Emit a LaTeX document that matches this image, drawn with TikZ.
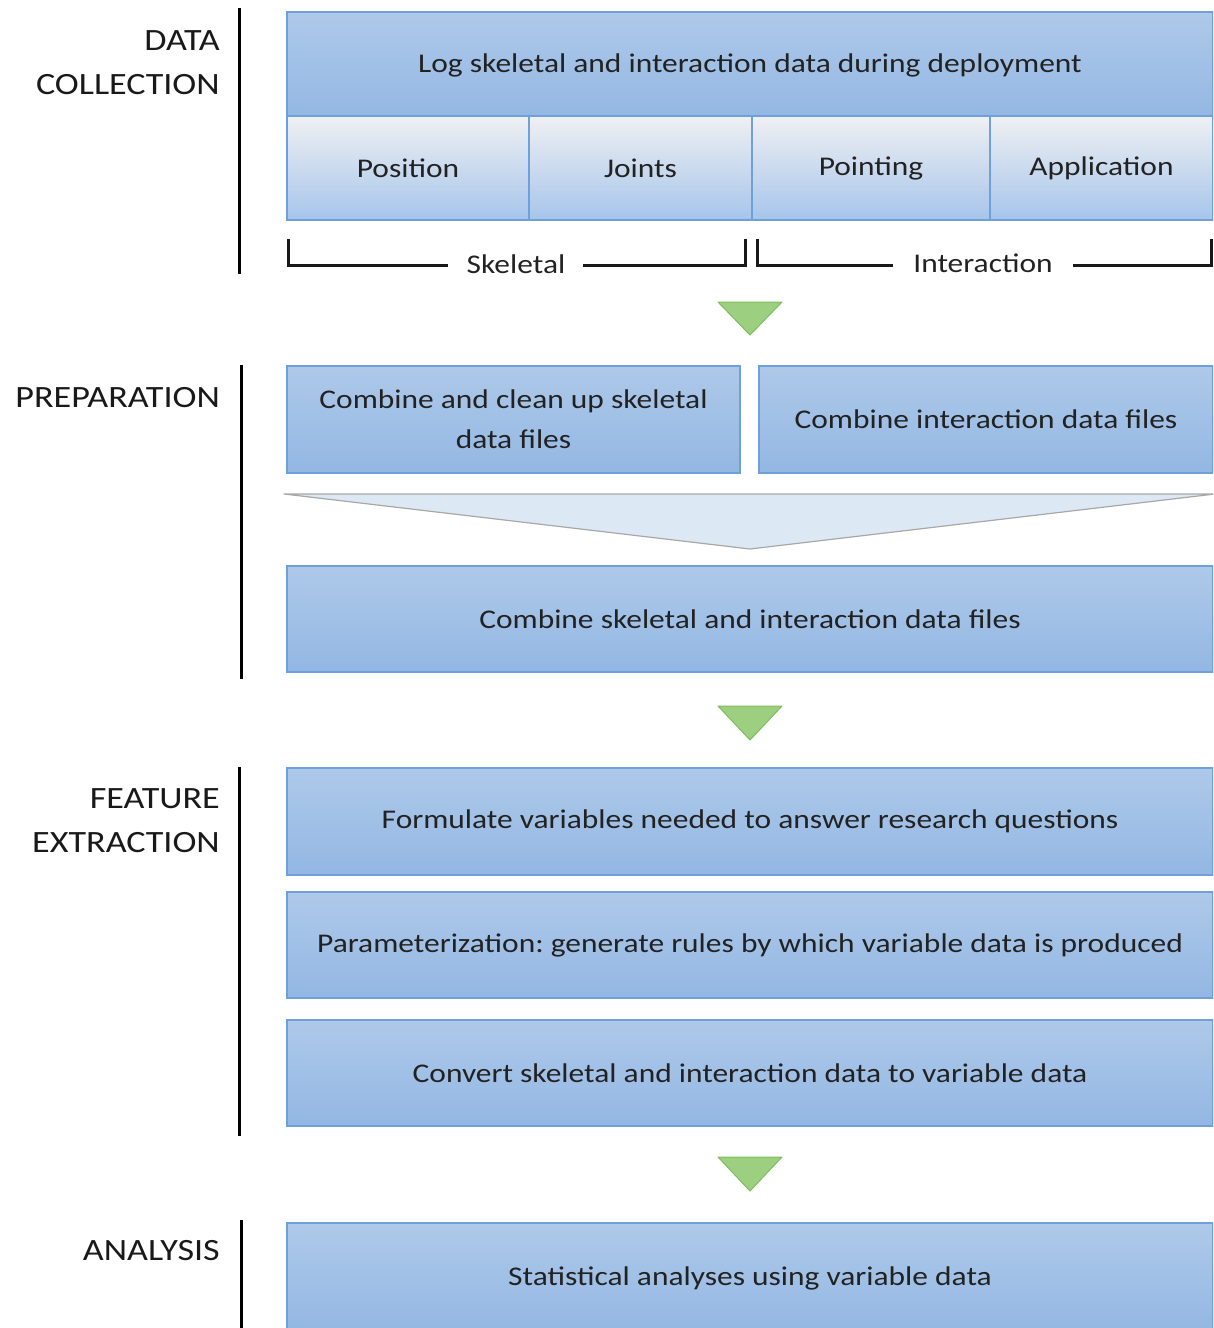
\documentclass[tikz,border=0pt]{standalone}
\usepackage{fontspec}
\setmainfont{Carlito}[FakeStretch=1.165]
\frenchspacing
\definecolor{boxtop}{HTML}{AEC9E9}
\definecolor{boxbot}{HTML}{93B7E3}
\definecolor{boxline}{HTML}{6EA0DC}
\definecolor{subtop}{HTML}{EFF0F2}
\definecolor{subbot}{HTML}{A6C5EB}
\definecolor{grfill}{HTML}{9DCF80}
\definecolor{grline}{HTML}{7DBE5C}
\definecolor{chfill}{HTML}{DDE8F5}
\definecolor{chline}{HTML}{A8A8A8}
\definecolor{txt}{HTML}{222222}
\begin{document}
\begin{tikzpicture}[x=1pt,y=-1pt,
  box/.style={draw=boxline,line width=1.5pt,top color=boxtop,bottom color=boxbot,
    text=txt,inner sep=0pt,font=\fontsize{27}{40}\selectfont\frenchspacing,align=center},
  subbox/.style={box,top color=subtop,bottom color=subbot},
  phase/.style={anchor=north east,align=right,inner sep=0pt,font=\fontsize{31}{44}\selectfont,text=black!90},
  bar/.style={line width=3pt,black},
  brk/.style={line width=3pt,black!90},
  brklabel/.style={inner sep=0pt,font=\fontsize{27}{34}\selectfont,text=txt},
  gtri/.style={fill=grfill,draw=grline,line width=1pt,line join=round}]
\useasboundingbox (0,0) rectangle (1213,1328);
\begin{scope}
\clip (0,0) rectangle (1213,1328);
% phase labels and bars
\node[phase] (pdc) at (220,30) {DATA\\COLLECTION};
\node[phase] (ppr) at (220,387) {PREPARATION};
\node[phase] (pfe) at (220,788) {FEATURE\\EXTRACTION};
\node[phase] (pan) at (220,1240) {ANALYSIS};
\draw[bar] (239,8) -- (239,274);
\draw[bar] (241,365) -- (241,679);
\draw[bar] (239,767) -- (239,1136);
\draw[bar] (241,1220) -- (241,1328);
% data collection
\node[box,minimum width=926pt,minimum height=107pt] (log) at (750,65.5) {Log skeletal and interaction data during deployment};
\node[subbox,minimum width=242pt,minimum height=104pt] (pos) at (408,168) {Position};
\node[subbox,minimum width=223pt,minimum height=104pt] (joi) at (640.5,168) {Joints};
\node[subbox,minimum width=238pt,minimum height=104pt] (poi) at (871,168) {Pointing};
\node[subbox,minimum width=223pt,minimum height=104pt] (app) at (1101.5,168) {Application};
% brackets
\node[brklabel] (skl) at (516,264) {Skeletal};
\node[brklabel] (int) at (983,263) {Interaction};
\draw[brk] (288,239) -- (288,265) -- (448,265);
\draw[brk] (583,265) -- (745,265) -- (745,239);
\draw[brk] (757,239) -- (757,265) -- (893,265);
\draw[brk] (1073,265) -- (1211,265) -- (1211,239);
% green triangle 1
\draw[gtri] (718,302) -- (782,302) -- (750,335) -- cycle;
% preparation
\node[box,minimum width=453pt,minimum height=107pt] (cskel) at (513.5,419.5) {Combine and clean up skeletal\\data files};
\node[box,minimum width=454pt,minimum height=107pt] (cint) at (986,419.5) {Combine interaction data files};
\draw[fill=chfill,draw=chline,line width=1.2pt,line join=round] (284,494) -- (1215,494) -- (750,549) -- cycle;
\node[box,minimum width=926pt,minimum height=106pt] (call) at (750,619) {Combine skeletal and interaction data files};
% green triangle 2
\draw[gtri] (718,706) -- (782,706) -- (750,740) -- cycle;
% feature extraction
\node[box,minimum width=926pt,minimum height=107pt] (form) at (750,821.5) {Formulate variables needed to answer research questions};
\node[box,minimum width=926pt,minimum height=106pt] (param) at (750,945) {Parameterization: generate rules by which variable data is produced};
\node[box,minimum width=926pt,minimum height=106pt] (conv) at (750,1073) {Convert skeletal and interaction data to variable data};
% green triangle 3
\draw[gtri] (718,1157) -- (782,1157) -- (750,1191) -- cycle;
% analysis
\node[box,minimum width=926pt,minimum height=110pt] (stat) at (750,1278) {Statistical analyses using variable data};
\end{scope}
\end{tikzpicture}
\end{document}
